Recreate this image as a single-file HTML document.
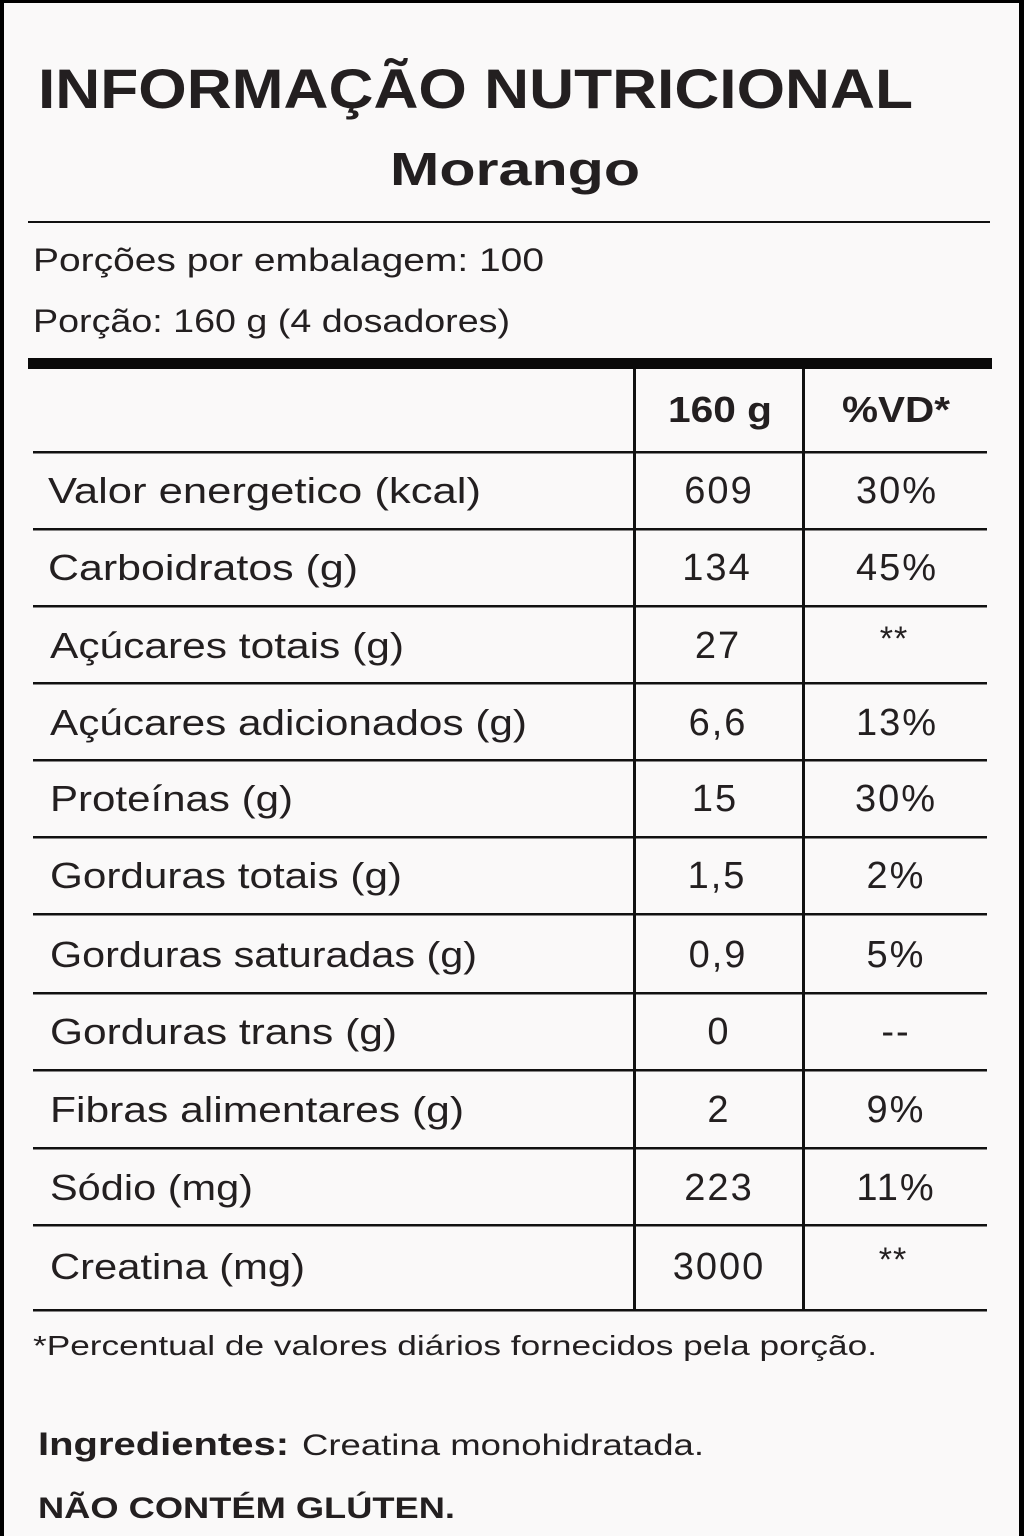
<!DOCTYPE html>
<html><head><meta charset="utf-8"><style>
html,body{margin:0;padding:0;background:#000;}
svg{display:block;}
text{font-family:"Liberation Sans",sans-serif;fill:#231f20;}
.r{font-size:36px;}
.v{font-size:38px;text-anchor:middle;letter-spacing:2px;}
</style></head><body>
<svg width="1024" height="1536" viewBox="0 0 1024 1536" xmlns="http://www.w3.org/2000/svg">
<rect x="0" y="0" width="1024" height="1536" fill="#000"/>
<rect x="4" y="3" width="1015" height="1533" fill="#faf9f9"/>
<text x="38" y="108" font-size="56" font-weight="bold" textLength="875" lengthAdjust="spacingAndGlyphs">INFORMAÇÃO NUTRICIONAL</text>
<text x="390" y="185" font-size="46" font-weight="bold" textLength="250" lengthAdjust="spacingAndGlyphs">Morango</text>
<rect x="28" y="221" width="962" height="2" fill="#111"/>
<text x="33" y="271" font-size="32" fill="#333" textLength="511" lengthAdjust="spacingAndGlyphs">Porções por embalagem: 100</text>
<text x="33" y="332" font-size="32" fill="#333" textLength="477" lengthAdjust="spacingAndGlyphs">Porção: 160 g (4 dosadores)</text>
<rect x="28" y="358" width="964" height="11" fill="#0a0a0a"/>
<rect x="633" y="369" width="3" height="942" fill="#111"/>
<rect x="802" y="369" width="3" height="942" fill="#111"/>
<g fill="#111">
<rect x="33" y="451" width="954" height="2.5"/>
<rect x="33" y="528" width="954" height="2.5"/>
<rect x="33" y="605" width="954" height="2.5"/>
<rect x="33" y="682" width="954" height="2.5"/>
<rect x="33" y="759" width="954" height="2.5"/>
<rect x="33" y="836" width="954" height="2.5"/>
<rect x="33" y="913" width="954" height="2.5"/>
<rect x="33" y="992" width="954" height="2.5"/>
<rect x="33" y="1069" width="954" height="2.5"/>
<rect x="33" y="1147" width="954" height="2.5"/>
<rect x="33" y="1224" width="954" height="2.5"/>
<rect x="33" y="1309" width="954" height="2.5"/>
</g>
<text x="668" y="422" font-size="36" font-weight="bold" textLength="104" lengthAdjust="spacingAndGlyphs">160 g</text>
<text x="842" y="422" font-size="36" font-weight="bold" textLength="108" lengthAdjust="spacingAndGlyphs">%VD*</text>

<text class="r" x="48" y="503" textLength="433" lengthAdjust="spacingAndGlyphs">Valor energetico (kcal)</text>
<text class="v" x="719" y="503">609</text><text class="v" x="897" y="503">30%</text>

<text class="r" x="48" y="580" textLength="310" lengthAdjust="spacingAndGlyphs">Carboidratos (g)</text>
<text class="v" x="717" y="580">134</text><text class="v" x="897" y="580">45%</text>

<text class="r" x="50" y="658" textLength="354" lengthAdjust="spacingAndGlyphs">Açúcares totais (g)</text>
<text class="v" x="718" y="658">27</text><text x="894" y="650" font-size="34" text-anchor="middle" letter-spacing="1">**</text>

<text class="r" x="50" y="735" textLength="477" lengthAdjust="spacingAndGlyphs">Açúcares adicionados (g)</text>
<text class="v" x="718" y="735">6,6</text><text class="v" x="897" y="735">13%</text>

<text class="r" x="50" y="811" textLength="243" lengthAdjust="spacingAndGlyphs">Proteínas (g)</text>
<text class="v" x="715" y="811">15</text><text class="v" x="896" y="811">30%</text>

<text class="r" x="50" y="888" textLength="352" lengthAdjust="spacingAndGlyphs">Gorduras totais (g)</text>
<text class="v" x="717" y="888">1,5</text><text class="v" x="896" y="888">2%</text>

<text class="r" x="50" y="967" textLength="427" lengthAdjust="spacingAndGlyphs">Gorduras saturadas (g)</text>
<text class="v" x="718" y="967">0,9</text><text class="v" x="896" y="967">5%</text>

<text class="r" x="50" y="1044" textLength="347" lengthAdjust="spacingAndGlyphs">Gorduras trans (g)</text>
<text class="v" x="719" y="1044">0</text><text class="v" x="896" y="1044" letter-spacing="4">--</text>

<text class="r" x="50" y="1122" textLength="414" lengthAdjust="spacingAndGlyphs">Fibras alimentares (g)</text>
<text class="v" x="719" y="1122">2</text><text class="v" x="896" y="1122">9%</text>

<text class="r" x="50" y="1200" textLength="203" lengthAdjust="spacingAndGlyphs">Sódio (mg)</text>
<text class="v" x="719" y="1200">223</text><text class="v" x="896" y="1200">11%</text>

<text class="r" x="50" y="1279" textLength="255" lengthAdjust="spacingAndGlyphs">Creatina (mg)</text>
<text class="v" x="719" y="1279">3000</text><text x="893" y="1271" font-size="34" text-anchor="middle" letter-spacing="1">**</text>

<text x="33" y="1355" font-size="28" textLength="844" lengthAdjust="spacingAndGlyphs">*Percentual de valores diários fornecidos pela porção.</text>
<text x="38" y="1455" font-size="32" font-weight="bold" textLength="251" lengthAdjust="spacingAndGlyphs">Ingredientes:</text>
<text x="302" y="1455" font-size="30" textLength="402" lengthAdjust="spacingAndGlyphs">Creatina monohidratada.</text>
<text x="38" y="1518" font-size="30" font-weight="bold" textLength="417" lengthAdjust="spacingAndGlyphs">NÃO CONTÉM GLÚTEN.</text>
</svg>
</body></html>
